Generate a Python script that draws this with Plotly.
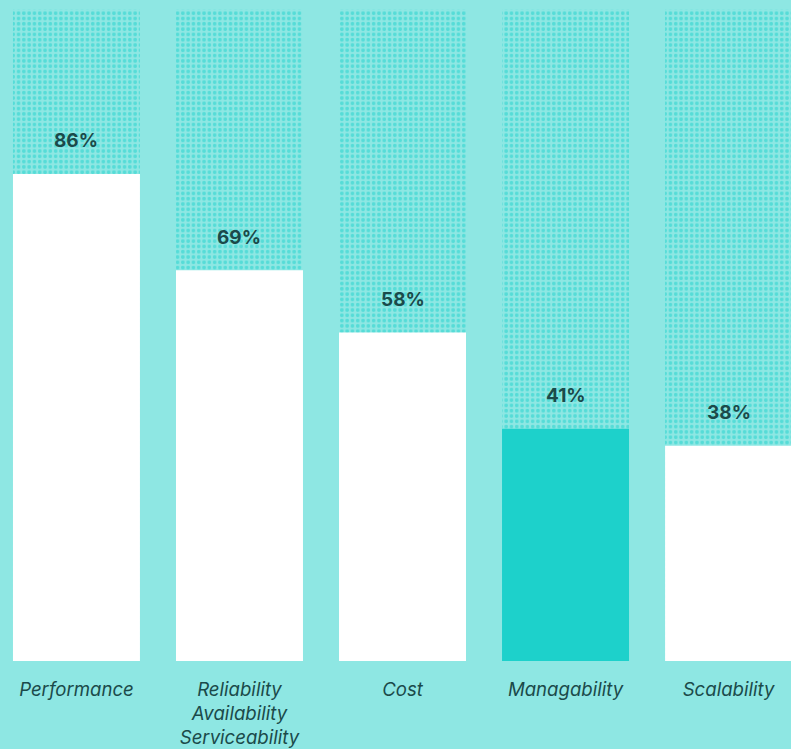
import plotly.graph_objects as go

categories = ["Performance", "Reliability<br>Availability<br>Serviceability", "Cost", "Managability", "Scalability"]
values = [86, 69, 58, 41, 38]
labels = ["86%", "69%", "58%", "41%", "38%"]
backdrop = [115, 115, 115, 115, 115]
highlight = "Managability"

BG = "#8ee7e3"
TEAL = "#1dd1cb"
TEXT = "#1b4a4a"

bar_colors = [TEAL if c == highlight else "#ffffff" for c in categories]

fig = go.Figure()
fig.add_trace(go.Bar(
    x=categories, y=backdrop,
    marker=dict(color=BG, line=dict(width=0),
                pattern=dict(shape=".", fgcolor=TEAL, bgcolor=BG, size=5.3, solidity=0.4)),
    hoverinfo="skip", showlegend=False,
))
fig.add_trace(go.Bar(
    x=categories, y=values,
    marker=dict(color=bar_colors, line=dict(width=0)),
    showlegend=False,
))
for c, v, t in zip(categories, values, labels):
    fig.add_annotation(x=c, y=v, text=f"<b>{t}</b>", showarrow=False, yshift=33,
                       font=dict(family="Inter", size=19, color=TEXT, weight=800))

fig.update_layout(
    width=791, height=749,
    margin=dict(l=0, r=0, t=0, b=88),
    paper_bgcolor=BG, plot_bgcolor=BG,
    barmode="overlay", bargap=0.221,
    xaxis=dict(range=[-0.469, 4.383], showgrid=False, zeroline=False, showline=False,
               automargin=False, ticks="", ticklabelstandoff=15,
               tickfont=dict(family="Inter", size=18.6, color=TEXT, style="italic")),
    yaxis=dict(range=[0, 116.7], visible=False, automargin=False),
)
fig.write_html("out.html", config={"displayModeBar": False},
               post_script="document.body.style.margin='0';document.body.style.background='" + BG + "';")
